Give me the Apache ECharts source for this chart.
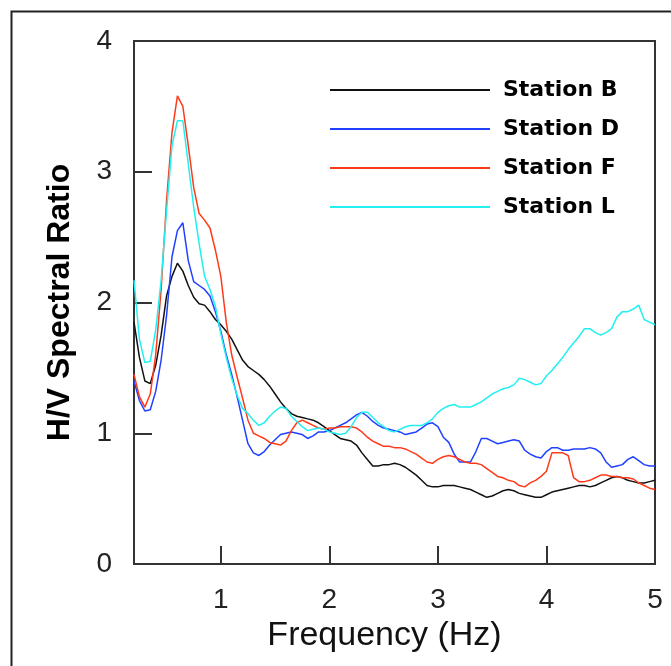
<!DOCTYPE html>
<html>
<head>
<meta charset="utf-8">
<title>H/V Spectral Ratio</title>
<script src="https://cdn.jsdelivr.net/npm/echarts@6/dist/echarts.min.js"></script>
<style>
  html, body { margin: 0; padding: 0; background: #fff; }
  #chart { width: 671px; height: 666px; }
</style>
</head>
<body>
<div id="chart"></div>
<script>
// frequency grid (Hz), 0.2 .. 5.0 step 0.05
var freq = [];
for (var i = 0; i <= 96; i++) freq.push(+(0.2 + i * 0.05).toFixed(2));

var stationB = [
  1.85, 1.58, 1.40, 1.38, 1.52, 1.75, 2.05, 2.20, 2.30, 2.24,
  2.13, 2.04, 1.99, 1.98, 1.93, 1.87, 1.83, 1.78, 1.72, 1.64,
  1.56, 1.51, 1.48, 1.45, 1.41, 1.36, 1.30, 1.24, 1.19, 1.15,
  1.13, 1.12, 1.11, 1.10, 1.08, 1.05, 1.02, 0.99, 0.96, 0.95,
  0.94, 0.91, 0.85, 0.80, 0.75, 0.75, 0.76, 0.76, 0.77, 0.76,
  0.74, 0.71, 0.68, 0.64, 0.60, 0.59, 0.59, 0.60, 0.60, 0.60,
  0.59, 0.58, 0.57, 0.55, 0.53, 0.51, 0.52, 0.54, 0.56, 0.57,
  0.56, 0.54, 0.53, 0.52, 0.51, 0.51, 0.53, 0.55, 0.56, 0.57,
  0.58, 0.59, 0.60, 0.60, 0.59, 0.60, 0.62, 0.64, 0.66, 0.67,
  0.66, 0.64, 0.63, 0.62, 0.62, 0.63, 0.64
];
var stationD = [
  1.40, 1.25, 1.17, 1.18, 1.32, 1.56, 1.90, 2.35, 2.55, 2.61,
  2.32, 2.16, 2.13, 2.10, 2.05, 1.93, 1.78, 1.60, 1.45, 1.28,
  1.10, 0.92, 0.85, 0.83, 0.86, 0.91, 0.95, 0.99, 1.00, 1.01,
  1.00, 0.99, 0.96, 0.98, 1.01, 1.01, 1.02, 1.04, 1.06, 1.08,
  1.11, 1.14, 1.16, 1.13, 1.09, 1.06, 1.04, 1.03, 1.02, 1.01,
  0.99, 1.00, 1.01, 1.04, 1.07, 1.08, 1.05, 0.97, 0.93, 0.84,
  0.78, 0.78, 0.78, 0.86, 0.96, 0.96, 0.94, 0.92, 0.93, 0.94,
  0.95, 0.94, 0.87, 0.84, 0.82, 0.81, 0.86, 0.89, 0.89, 0.87,
  0.87, 0.88, 0.88, 0.88, 0.89, 0.88, 0.85, 0.78, 0.74, 0.75,
  0.76, 0.80, 0.82, 0.79, 0.76, 0.75, 0.75
];
var stationF = [
  1.45, 1.28, 1.20, 1.30, 1.60, 2.10, 2.78, 3.30, 3.58, 3.50,
  3.20, 2.88, 2.68, 2.63, 2.57, 2.40, 2.20, 1.85, 1.60, 1.43,
  1.27, 1.10, 1.00, 0.98, 0.96, 0.93, 0.92, 0.91, 0.94, 1.02,
  1.08, 1.10, 1.08, 1.06, 1.04, 1.03, 1.04, 1.04, 1.05, 1.05,
  1.05, 1.04, 1.01, 0.97, 0.94, 0.92, 0.90, 0.90, 0.89, 0.89,
  0.88, 0.86, 0.84, 0.81, 0.78, 0.77, 0.80, 0.82, 0.83, 0.82,
  0.80, 0.78, 0.77, 0.77, 0.76, 0.73, 0.70, 0.67, 0.66, 0.64,
  0.63, 0.60, 0.59, 0.62, 0.64, 0.67, 0.71, 0.85, 0.85, 0.85,
  0.83, 0.66, 0.63, 0.63, 0.64, 0.66, 0.68, 0.68, 0.67, 0.67,
  0.66, 0.66, 0.65, 0.62, 0.60, 0.58, 0.57
];
var stationL = [
  2.17, 1.72, 1.54, 1.55, 1.79, 2.17, 2.70, 3.20, 3.39, 3.39,
  3.06, 2.73, 2.45, 2.20, 2.10, 1.97, 1.76, 1.58, 1.42, 1.29,
  1.19, 1.15, 1.10, 1.06, 1.08, 1.13, 1.17, 1.20, 1.19, 1.13,
  1.09, 1.05, 1.02, 1.03, 1.04, 1.03, 1.01, 1.00, 0.99, 1.00,
  1.05, 1.12, 1.16, 1.16, 1.12, 1.08, 1.05, 1.02, 1.01, 1.03,
  1.05, 1.06, 1.06, 1.06, 1.08, 1.11, 1.16, 1.19, 1.21, 1.22,
  1.20, 1.20, 1.20, 1.22, 1.24, 1.27, 1.30, 1.32, 1.34, 1.35,
  1.37, 1.42, 1.41, 1.39, 1.37, 1.38, 1.44, 1.48, 1.53, 1.58,
  1.64, 1.69, 1.74, 1.80, 1.80, 1.77, 1.75, 1.77, 1.80, 1.89,
  1.93, 1.93, 1.95, 1.98, 1.87, 1.85, 1.83
];

var stationNames = ["Station B", "Station D", "Station F", "Station L"];
var stationColors = ["#111111", "#2040ff", "#ff3a1a", "#22f0f0"];
var xTicks = [1, 2, 3, 4, 5];

function pairs(vals) {
  return vals.map(function (v, k) { return [freq[k], v]; });
}

var myChart = echarts.init(document.getElementById("chart"));
var labelFont = "Liberation Sans, Arial, sans-serif";

var seriesList = [stationB, stationD, stationF, stationL].map(function (vals, k) {
  return {
    type: "line",
    name: stationNames[k],
    data: pairs(vals),
    showSymbol: false,
    smooth: false,
    color: stationColors[k],
    lineStyle: { width: 1.5, color: stationColors[k] }
  };
});

var option = {
  animation: false,
  backgroundColor: "#fff",
  grid: {
    left: 134, top: 41, right: 16, bottom: 102,
    show: true, borderColor: "#333", borderWidth: 2
  },
  legend: {
    orient: "vertical",
    left: 325, top: 74,
    icon: "rect",
    itemWidth: 160, itemHeight: 2,
    itemGap: 17,
    textStyle: {
      fontFamily: "DejaVu Sans", fontWeight: "bold", fontSize: 22,
      lineHeight: 22, color: "#000", padding: [0, 0, 0, 8]
    },
    data: stationNames
  },
  xAxis: {
    type: "value",
    min: 0.2, max: 5,
    name: "Frequency (Hz)",
    nameLocation: "middle",
    nameGap: 55,
    nameTextStyle: { fontFamily: labelFont, fontSize: 34, color: "#111", padding: [0, 20, 0, 0] },
    axisLine: { show: true, lineStyle: { color: "#333", width: 2 } },
    axisTick: { show: true, inside: true, length: 18, customValues: [1, 2, 3, 4], lineStyle: { color: "#333", width: 2 } },
    axisLabel: { customValues: xTicks, margin: 22, fontFamily: labelFont, fontSize: 28, color: "#222" },
    splitLine: { show: false }
  },
  yAxis: {
    type: "value",
    min: 0, max: 4, interval: 1,
    name: "H/V Spectral Ratio",
    nameLocation: "middle",
    nameRotate: 90,
    nameGap: 58,
    nameTextStyle: { fontFamily: labelFont, fontWeight: "bold", fontSize: 32, color: "#000" },
    axisLine: { show: true, lineStyle: { color: "#333", width: 2 } },
    axisTick: { show: true, inside: true, length: 18, customValues: [1, 2, 3], lineStyle: { color: "#333", width: 2 } },
    axisLabel: { margin: 22, fontFamily: labelFont, fontSize: 28, color: "#222" },
    splitLine: { show: false }
  },
  graphic: [
    {
      type: "rect",
      left: 9, top: 9,
      shape: { width: 700, height: 700 },
      style: { fill: "none", stroke: "#222", lineWidth: 2 },
      silent: true
    }
  ],
  series: seriesList
};

myChart.setOption(option);
</script>
</body>
</html>
